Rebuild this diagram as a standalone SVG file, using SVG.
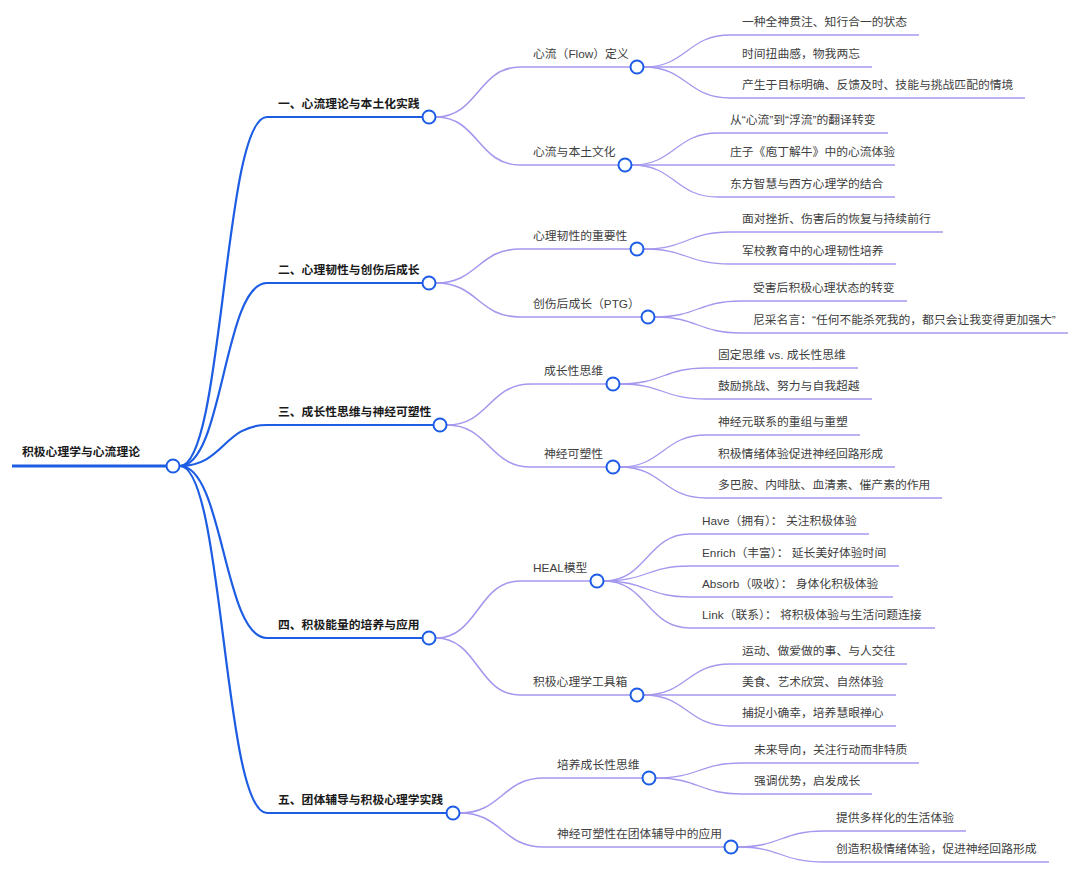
<svg xmlns="http://www.w3.org/2000/svg" width="1080" height="874" viewBox="0 0 1080 874">
<style>
.l0{stroke:#1c5de4;stroke-width:3;fill:none}
.l1{stroke:#1c5de4;stroke-width:2.2;fill:none}
.l2{stroke:#a398ee;stroke-width:1.6;fill:none}
.l3{stroke:#a398ee;stroke-width:1.3;fill:none}
.dot{fill:#fff;stroke:#1c5de4;stroke-width:2}
.tb{font-family:"Liberation Sans","Noto Sans CJK SC",sans-serif;font-size:11.8px;font-weight:bold;fill:#1a1a1a}
.tn{font-family:"Liberation Sans","Noto Sans CJK SC",sans-serif;font-size:11.8px;fill:#404040}
</style>
<rect width="1080" height="874" fill="#fff"/>
<g id="connectors">
<path class="l1" d="M180,466 C223.5,466 223.5,117 267,117"/>
<path class="l1" d="M180,466 C223.5,466 223.5,283 267,283"/>
<path class="l1" d="M180,466 C223.5,466 223.5,425 267,425"/>
<path class="l1" d="M180,466 C223.5,466 223.5,638 267,638"/>
<path class="l1" d="M180,466 C223.5,466 223.5,813 267,813"/>
<path class="l2" d="M436,117 C478,117 478,67 520,67"/>
<path class="l2" d="M436,117 C478,117 478,165 520,165"/>
<path class="l2" d="M436,283 C478,283 478,249 520,249"/>
<path class="l2" d="M436,283 C478,283 478,317 520,317"/>
<path class="l2" d="M447,425 C489,425 489,384 531,384"/>
<path class="l2" d="M447,425 C489,425 489,467 531,467"/>
<path class="l2" d="M436,638 C478,638 478,581 520,581"/>
<path class="l2" d="M436,638 C478,638 478,695 520,695"/>
<path class="l2" d="M460,813 C502,813 502,778 544,778"/>
<path class="l2" d="M460,813 C502,813 502,847 544,847"/>
<path class="l3" d="M644,67 C687,67 687,35 730,35"/>
<path class="l3" d="M644,67 L730,67"/>
<path class="l3" d="M644,67 C687,67 687,98 730,98"/>
<path class="l3" d="M632,165 C675,165 675,133 718,133"/>
<path class="l3" d="M632,165 L718,165"/>
<path class="l3" d="M632,165 C675,165 675,197 718,197"/>
<path class="l3" d="M644,249 C687,249 687,232 730,232"/>
<path class="l3" d="M644,249 C687,249 687,264 730,264"/>
<path class="l3" d="M655,317 C698,317 698,301 741,301"/>
<path class="l3" d="M655,317 C698,317 698,333 741,333"/>
<path class="l3" d="M620,384 C663,384 663,368 706,368"/>
<path class="l3" d="M620,384 C663,384 663,399 706,399"/>
<path class="l3" d="M620,467 C663,467 663,435 706,435"/>
<path class="l3" d="M620,467 L706,467"/>
<path class="l3" d="M620,467 C663,467 663,498 706,498"/>
<path class="l3" d="M604,581 C647,581 647,534 690,534"/>
<path class="l3" d="M604,581 C647,581 647,566 690,566"/>
<path class="l3" d="M604,581 C647,581 647,597 690,597"/>
<path class="l3" d="M604,581 C647,581 647,628 690,628"/>
<path class="l3" d="M644,695 C687,695 687,664 730,664"/>
<path class="l3" d="M644,695 L730,695"/>
<path class="l3" d="M644,695 C687,695 687,726 730,726"/>
<path class="l3" d="M656,778 C699,778 699,763 742,763"/>
<path class="l3" d="M656,778 C699,778 699,794 742,794"/>
<path class="l3" d="M738,847 C781,847 781,831 824,831"/>
<path class="l3" d="M738,847 C781,847 781,862 824,862"/>
</g>
<g id="root">
<path class="l0" d="M12,466 H166"/>
<text class="tb" x="22" y="456">积极心理学与心流理论</text>
<circle class="dot" cx="173" cy="466" r="6.5"/>
</g>
<g id="n1">
<path class="l1" d="M267,117 H422"/>
<text class="tb" x="278" y="108">一、心流理论与本土化实践</text>
<circle class="dot" cx="429" cy="117" r="6.5"/>
</g>
<g id="n2">
<path class="l1" d="M267,283 H422"/>
<text class="tb" x="278" y="274">二、心理韧性与创伤后成长</text>
<circle class="dot" cx="429" cy="283" r="6.5"/>
</g>
<g id="n3">
<path class="l1" d="M267,425 H433"/>
<text class="tb" x="278" y="416">三、成长性思维与神经可塑性</text>
<circle class="dot" cx="440" cy="425" r="6.5"/>
</g>
<g id="n4">
<path class="l1" d="M267,638 H422"/>
<text class="tb" x="278" y="629">四、积极能量的培养与应用</text>
<circle class="dot" cx="429" cy="638" r="6.5"/>
</g>
<g id="n5">
<path class="l1" d="M267,813 H446"/>
<text class="tb" x="278" y="804">五、团体辅导与积极心理学实践</text>
<circle class="dot" cx="453" cy="813" r="6.5"/>
</g>
<g id="n1a">
<path class="l2" d="M520,67 H630"/>
<text class="tn" x="533" y="58">心流（Flow）定义</text>
<circle class="dot" cx="637" cy="67" r="6.5"/>
</g>
<g id="n1b">
<path class="l2" d="M520,165 H618"/>
<text class="tn" x="533" y="156">心流与本土文化</text>
<circle class="dot" cx="625" cy="165" r="6.5"/>
</g>
<g id="n2a">
<path class="l2" d="M520,249 H630"/>
<text class="tn" x="533" y="240">心理韧性的重要性</text>
<circle class="dot" cx="637" cy="249" r="6.5"/>
</g>
<g id="n2b">
<path class="l2" d="M520,317 H641"/>
<text class="tn" x="533" y="308">创伤后成长（PTG）</text>
<circle class="dot" cx="648" cy="317" r="6.5"/>
</g>
<g id="n3a">
<path class="l2" d="M531,384 H606"/>
<text class="tn" x="544" y="375">成长性思维</text>
<circle class="dot" cx="613" cy="384" r="6.5"/>
</g>
<g id="n3b">
<path class="l2" d="M531,467 H606"/>
<text class="tn" x="544" y="458">神经可塑性</text>
<circle class="dot" cx="613" cy="467" r="6.5"/>
</g>
<g id="n4a">
<path class="l2" d="M520,581 H590"/>
<text class="tn" x="533" y="572">HEAL模型</text>
<circle class="dot" cx="597" cy="581" r="6.5"/>
</g>
<g id="n4b">
<path class="l2" d="M520,695 H630"/>
<text class="tn" x="533" y="686">积极心理学工具箱</text>
<circle class="dot" cx="637" cy="695" r="6.5"/>
</g>
<g id="n5a">
<path class="l2" d="M544,778 H642"/>
<text class="tn" x="557" y="769">培养成长性思维</text>
<circle class="dot" cx="649" cy="778" r="6.5"/>
</g>
<g id="n5b">
<path class="l2" d="M544,847 H724"/>
<text class="tn" x="557" y="838">神经可塑性在团体辅导中的应用</text>
<circle class="dot" cx="731" cy="847" r="6.5"/>
</g>
<g id="leaves">
<g id="n1a1"><path class="l3" d="M730,35 H919"/><text class="tn" x="742" y="26">一种全神贯注、知行合一的状态</text></g>
<g id="n1a2"><path class="l3" d="M730,67 H872"/><text class="tn" x="742" y="58">时间扭曲感，物我两忘</text></g>
<g id="n1a3"><path class="l3" d="M730,98 H1025"/><text class="tn" x="742" y="89">产生于目标明确、反馈及时、技能与挑战匹配的情境</text></g>
<g id="n1b1"><path class="l3" d="M718,133 H888"/><text class="tn" x="730" y="124">从“心流”到“浮流”的翻译转变</text></g>
<g id="n1b2"><path class="l3" d="M718,165 H895"/><text class="tn" x="730" y="156">庄子《庖丁解牛》中的心流体验</text></g>
<g id="n1b3"><path class="l3" d="M718,197 H895"/><text class="tn" x="730" y="188">东方智慧与西方心理学的结合</text></g>
<g id="n2a1"><path class="l3" d="M730,232 H943"/><text class="tn" x="742" y="223">面对挫折、伤害后的恢复与持续前行</text></g>
<g id="n2a2"><path class="l3" d="M730,264 H896"/><text class="tn" x="742" y="255">军校教育中的心理韧性培养</text></g>
<g id="n2b1"><path class="l3" d="M741,301 H907"/><text class="tn" x="753" y="292">受害后积极心理状态的转变</text></g>
<g id="n2b2"><path class="l3" d="M741,333 H1068"/><text class="tn" x="753" y="324">尼采名言：“任何不能杀死我的，都只会让我变得更加强大”</text></g>
<g id="n3a1"><path class="l3" d="M706,368 H858"/><text class="tn" x="718" y="359">固定思维 vs. 成长性思维</text></g>
<g id="n3a2"><path class="l3" d="M706,399 H872"/><text class="tn" x="718" y="390">鼓励挑战、努力与自我超越</text></g>
<g id="n3b1"><path class="l3" d="M706,435 H860"/><text class="tn" x="718" y="426">神经元联系的重组与重塑</text></g>
<g id="n3b2"><path class="l3" d="M706,467 H895"/><text class="tn" x="718" y="458">积极情绪体验促进神经回路形成</text></g>
<g id="n3b3"><path class="l3" d="M706,498 H942"/><text class="tn" x="718" y="489">多巴胺、内啡肽、血清素、催产素的作用</text></g>
<g id="n4a1"><path class="l3" d="M690,534 H869"/><text class="tn" x="702" y="525" xml:space="preserve">Have（拥有）： 关注积极体验</text></g>
<g id="n4a2"><path class="l3" d="M690,566 H899"/><text class="tn" x="702" y="557" xml:space="preserve">Enrich（丰富）： 延长美好体验时间</text></g>
<g id="n4a3"><path class="l3" d="M690,597 H893"/><text class="tn" x="702" y="588" xml:space="preserve">Absorb（吸收）： 身体化积极体验</text></g>
<g id="n4a4"><path class="l3" d="M690,628 H935"/><text class="tn" x="702" y="619" xml:space="preserve">Link（联系）： 将积极体验与生活问题连接</text></g>
<g id="n4b1"><path class="l3" d="M730,664 H907"/><text class="tn" x="742" y="655">运动、做爱做的事、与人交往</text></g>
<g id="n4b2"><path class="l3" d="M730,695 H896"/><text class="tn" x="742" y="686">美食、艺术欣赏、自然体验</text></g>
<g id="n4b3"><path class="l3" d="M730,726 H896"/><text class="tn" x="742" y="717">捕捉小确幸，培养慧眼禅心</text></g>
<g id="n5a1"><path class="l3" d="M742,763 H919"/><text class="tn" x="754" y="754">未来导向，关注行动而非特质</text></g>
<g id="n5a2"><path class="l3" d="M742,794 H872"/><text class="tn" x="754" y="785">强调优势，启发成长</text></g>
<g id="n5b1"><path class="l3" d="M824,831 H966"/><text class="tn" x="836" y="822">提供多样化的生活体验</text></g>
<g id="n5b2"><path class="l3" d="M824,862 H1049"/><text class="tn" x="836" y="853">创造积极情绪体验，促进神经回路形成</text></g>
</g>
</svg>
